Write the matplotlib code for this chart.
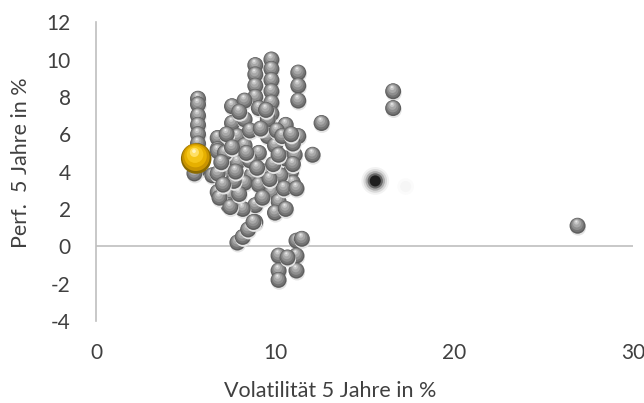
import matplotlib
matplotlib.use('Agg')
import matplotlib.pyplot as plt
import matplotlib.transforms as mtransforms

plt.rcParams['font.family'] = ['Lato', 'DejaVu Sans']
plt.rcParams['axes.unicode_minus'] = False

# Volatilität / Performance der Fonds (5 Jahre, in %)
vola = [5.7, 5.7, 5.7, 5.7, 5.7, 5.7, 5.7, 5.7,
        8.9, 8.9, 8.9, 8.9,
        9.8, 9.8, 9.8, 9.8, 9.8, 9.8,
        11.3, 11.3, 11.3,
        6.8, 6.8, 6.5, 7.3, 6.8, 7.4, 7.6, 8.3, 7.6, 8.3, 9.1, 9.6, 10.6, 11.3,
        12.1, 12.6, 7.9, 8.3, 9.1, 9.6, 10.0, 10.6, 11.1, 10.9, 11.0, 9.4, 8.7,
        7.9, 8.3, 9.1, 9.8, 10.2, 10.0, 8.9, 8.2, 8.9, 7.4, 5.5, 6.8, 6.8, 6.9, 7.5,
        8.0, 8.6, 9.2, 10.1, 10.4, 11.0, 10.3, 9.7, 8.6, 9.9, 10.5, 8.0, 7.7,
        10.6, 11.2, 9.3, 7.2, 7.3, 9.5, 10.9, 11.0, 7.0,
        7.6, 7.8, 8.4, 9.0, 10.2, 7.1,
        7.9, 8.2, 8.5, 8.8,
        10.2, 10.2, 10.2, 11.2, 11.5, 11.2, 11.2, 10.7,
        16.6, 16.6, 26.9]
perf = [7.9, 7.6, 7.0, 6.5, 6.0, 5.5, 5.1, 4.1,
        9.7, 9.2, 8.6, 8.0,
        10.0, 9.5, 8.9, 8.3, 7.7, 7.1,
        9.3, 8.6, 7.8,
        5.8, 5.2, 3.8, 4.0, 2.9, 2.7, 7.5, 7.8, 6.6, 6.8, 7.4, 6.8, 6.5, 5.9,
        4.9, 6.6, 5.9, 5.4, 5.0, 5.9, 5.4, 4.7, 4.9, 4.0, 3.4, 4.0, 3.8,
        4.5, 3.4, 3.3, 2.9, 2.4, 1.8, 2.2, 2.0, 1.3, 2.2, 3.9, 5.1, 3.9, 2.6, 2.1,
        7.2, 6.2, 6.3, 6.2, 5.9, 5.5, 3.8, 3.6, 4.6, 4.4, 3.1, 2.8, 3.5,
        2.0, 3.1, 2.6, 5.0, 6.0, 7.3, 6.0, 4.4, 4.5,
        5.3, 4.0, 5.0, 4.2, 4.9, 3.3,
        0.2, 0.5, 0.9, 1.3,
        -0.5, -1.3, -1.8, 0.3, 0.4, -0.5, -1.3, -0.6,
        8.3, 7.4, 1.1]

# hervorgehobener Fonds
gold_vola = [5.6]
gold_perf = [4.7]

# unscharfe Punkte
blur_vola = [15.6, 17.3]
blur_perf = [3.5, 3.2]

xticks = [0, 10, 20, 30]
yticks = [-4, -2, 0, 2, 4, 6, 8, 10, 12]

fig = plt.figure(figsize=(6.44, 4.03), dpi=100)
ax = fig.add_axes([0.149, 0.2035, 0.834, 0.7415])


def shifted(dy):
    return mtransforms.offset_copy(ax.transData, fig=fig, x=-0.3 * dy, y=dy, units='points')


def spheres(xs, ys, d, layers, z):
    # layers: (colour, relative diameter, upward shift)
    for i, (col, rel, up) in enumerate(layers):
        ax.scatter(xs, ys, s=(d * rel) ** 2, color=col, edgecolors='none',
                   transform=shifted(up * d), zorder=z + i * 0.01)


grey_layers = [('#e4e4e4', 1.0, -0.12),
               ('#5e5e5e', 1.0, 0.0),
               ('#747474', 0.88, 0.04),
               ('#8e8e8e', 0.72, 0.09),
               ('#a8a8a8', 0.52, 0.15),
               ('#c6c6c6', 0.30, 0.22),
               ('#e8e8e8', 0.12, 0.26)]
for k in range(len(vola)):
    spheres([vola[k]], [perf[k]], 11.5, grey_layers, 3 + k * 0.1)

# blurred dark blob and faint one
for r, a in [(20, 0.05), (17, 0.1), (14, 0.2), (11, 0.4), (8, 0.7)]:
    ax.scatter(blur_vola[:1], blur_perf[:1], s=r ** 2, color='black', alpha=a,
               edgecolors='none', zorder=20)
for r, a in [(12, 0.03), (8, 0.04)]:
    ax.scatter(blur_vola[1:], blur_perf[1:], s=r ** 2, color='grey', alpha=a,
               edgecolors='none', zorder=20)

gold_layers = [('#8a6a00', 1.0, 0.0),
               ('#c99400', 0.9, 0.04),
               ('#e6b000', 0.74, 0.08),
               ('#f5c518', 0.55, 0.13),
               ('#ffe066', 0.30, 0.2),
               ('#fff4c0', 0.12, 0.24)]
spheres(gold_vola, gold_perf, 22, gold_layers, 40)

ax.set_xlim(0, 30)
ax.set_ylim(-4, 12)
ax.set_xticks(xticks)
ax.set_yticks(yticks)
ax.axhline(0, color='#bfbfbf', lw=1.2, zorder=1)
for s in ['top', 'right', 'bottom']:
    ax.spines[s].set_visible(False)
ax.spines['left'].set_color('#bfbfbf')
ax.spines['left'].set_linewidth(1.2)
ax.tick_params(axis='both', length=0, labelsize=15, colors='#404040')
ax.tick_params(axis='y', pad=18)
ax.tick_params(axis='x', pad=16)
ax.set_xlabel('Volatilität 5 Jahre in %', fontsize=15.5, color='#404040')
ax.set_ylabel('Perf.  5 Jahre in %', fontsize=15.5, color='#404040')
ax.xaxis.set_label_coords(0.436, -0.2)
ax.yaxis.set_label_coords(-0.121, 0.53)

fig.savefig('out.png', dpi=100)
